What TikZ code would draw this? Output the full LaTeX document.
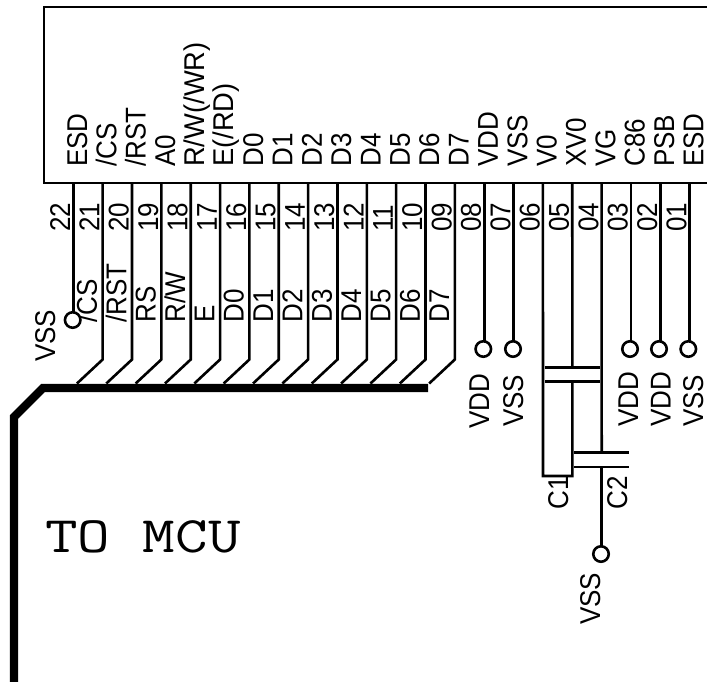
\documentclass[tikz,border=0pt]{standalone}
\usepackage{fontspec}
\setmainfont{Liberation Sans}
\newcommand{\tallt}[1]{\scalebox{1}[1.1]{#1}}
\newcommand{\longt}[1]{\scalebox{1.05}[1]{#1}}
\tikzset{
  x=0.75pt,y=-0.75pt,
  wire/.style={draw=black,line width=1.95pt,line join=miter},
  bus/.style={draw=black,line width=6.2pt,line join=miter},
  term/.style={circle,draw=black,line width=1.95pt,minimum size=11.6pt,inner sep=0pt,outer sep=0pt,fill=white},
  lbl/.style={rotate=90,anchor=base west,inner sep=0pt,font=\fontsize{19.5}{19.5}\selectfont},
  mcu/.style={anchor=base west,inner sep=0pt,font=\ttfamily\fontsize{47.4}{48}\selectfont},
}
\begin{document}
\begin{tikzpicture}
\useasboundingbox (0,0) rectangle (707,682);
% display box
\coordinate (boxTR) at (707,7);
\coordinate (boxTL) at (44,7);
\coordinate (boxBL) at (44,183);
\coordinate (boxBR) at (707,183);
\draw[wire] (boxTR) -- (boxTL) -- (boxBL) -- (boxBR);
% pin anchors on the box, names and numbers
\foreach \n/\name/\num in {22/ESD/22,21/\slash CS/21,20/\slash RST/20,19/A0/19,18/\longt{R\slash W(\slash WR)}/18,17/\longt{E(\slash RD)}/17,16/D0/16,15/D1/15,14/D2/14,13/D3/13,12/D4/12,11/D5/11,10/D6/10,9/D7/09,8/VDD/08,7/VSS/07,6/V0/06,5/XV0/05,4/VG/04,3/C86/03,2/PSB/02,1/ESD/01}{
  \pgfmathsetmacro\px{73.3+(22-\n)*29.35}
  \coordinate (p\n) at (\px,183);
  \node[lbl] (name\n) at (\px+13.7,167) {\tallt{\name}};
  \node[lbl] (num\n) at (\px-3.3,232) {\tallt{\num}};
}
% bus
\coordinate (busA) at (428,388);
\coordinate (busB) at (43,388);
\coordinate (busC) at (14,417);
\coordinate (busD) at (14,682);
\draw[bus] (busA) -- (busB) -- (busC) -- (busD);
% signal lines into the bus
\foreach \n/\sig in {21/\slash CS,20/\slash RST,19/RS,18/R\slash W,17/E,16/D0,15/D1,14/D2,13/D3,12/D4,11/D5,10/D6,9/D7}{
  \pgfmathsetmacro\px{73.3+(22-\n)*29.35}
  \coordinate (k\n) at (\px,359.5);
  \coordinate (b\n) at (\px-25.7,383.5);
  \draw[wire] (p\n) -- (k\n) -- (b\n);
  \node[lbl] (sig\n) at (\px-5.7,323) {\tallt{\sig}};
}
% terminals
\node[term] (t22) at (72.7,320) {};
\node[term] (t8)  at (483.3,349) {};
\node[term] (t7)  at (513,349) {};
\node[term] (t3)  at (630,349) {};
\node[term] (t2)  at (659,349) {};
\node[term] (t1)  at (688.3,349) {};
\node[term] (t0)  at (601,554) {};
\draw[wire] (p22) -- (p22 |- t22.north);
\draw[wire] (p8) -- (p8 |- t8.north);
\draw[wire] (p7) -- (p7 |- t7.north);
\draw[wire] (p3) -- (p3 |- t3.north);
\draw[wire] (p2) -- (p2 |- t2.north);
\draw[wire] (p1) -- (p1 |- t1.north);
\node[lbl] (vss22) at (55,362) {\tallt{VSS}};
\node[lbl] (vdd8) at (489,429) {\tallt{VDD}};
\node[lbl] (vss7) at (523,427) {\tallt{VSS}};
\node[lbl] (vdd3) at (638,427) {\tallt{VDD}};
\node[lbl] (vdd2) at (670.7,427) {\tallt{VDD}};
\node[lbl] (vss1) at (703,427) {\tallt{VSS}};
\node[lbl] (vss0) at (600,625) {\tallt{VSS}};
% capacitor C1
\coordinate (c1a) at (572.4,367.7);
\coordinate (c1b) at (572.4,381.7);
\coordinate (c1bot) at (572.4,476);
\coordinate (c1left) at (543,476);
\coordinate (c1aL) at (545,367.7);
\coordinate (c1aR) at (600,367.7);
\coordinate (c1bL) at (545,381.7);
\coordinate (c1bR) at (600,381.7);
\draw[wire] (c1aL) -- (c1aR);
\draw[wire] (c1bL) -- (c1bR);
\draw[wire] (p5) -- (c1a);
\draw[wire] (c1b) -- (c1bot) -- (c1left) -- (p6);
% capacitor C2
\coordinate (c2a) at (601.7,452.7);
\coordinate (c2b) at (601.7,467);
\coordinate (c2aL) at (574,452.7);
\coordinate (c2aR) at (629,452.7);
\coordinate (c2bL) at (574,467);
\coordinate (c2bR) at (629,467);
\draw[wire] (c2aL) -- (c2aR);
\draw[wire] (c2bL) -- (c2bR);
\draw[wire] (p4) -- (c2a);
\draw[wire] (c2b) -- (c2b |- t0.north);
\node[lbl] (c1l) at (568,510) {\tallt{C1}};
\node[lbl] (c2l) at (627,510) {\tallt{C2}};
\node[mcu] (mcu) at (45,552) {\scalebox{1}[0.81]{TO MCU}};
\end{tikzpicture}
\end{document}
